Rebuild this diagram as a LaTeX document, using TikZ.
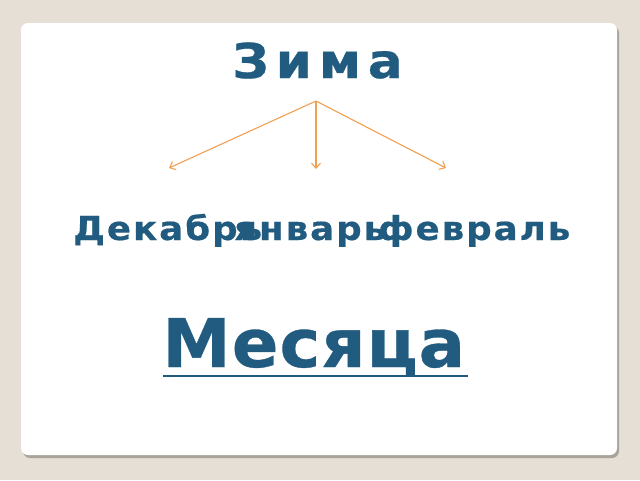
\documentclass[tikz,border=0pt]{standalone}
\usepackage{fontspec}
\setmainfont{DejaVu Sans}
\newfontfamily\titlefont[FakeStretch=1.08,LetterSpace=14,FakeBold=0.5]{DejaVu Sans Bold}
\newfontfamily\wordfont[FakeStretch=1.08,LetterSpace=6,FakeBold=0.5]{DejaVu Sans Bold}
\newfontfamily\bigfont[FakeStretch=1.03,LetterSpace=1.4,FakeBold=0.5]{DejaVu Sans Bold}
\usetikzlibrary{arrows.meta}
\definecolor{bgc}{HTML}{E6DFD5}
\definecolor{txt}{HTML}{215B7F}
\definecolor{arr}{HTML}{F0A050}
\definecolor{shd}{HTML}{A8A49C}
\tikzset{
  x=1pt,y=-1pt,
  word/.style={inner sep=0pt,text=txt,font=\wordfont\fontsize{33}{33}\selectfont,anchor=base west},
  conn/.style={draw=arr,line width=1.1pt,-{Straight Barb[length=5pt,width=9pt]}}
}
\begin{document}
\begin{tikzpicture}
\useasboundingbox (0,0) rectangle (640,480);
\fill[bgc] (0,0) rectangle (640,480);
\fill[shd,rounded corners=7pt] (23,26) rectangle (619,458);
\fill[white,rounded corners=7pt] (21,23) rectangle (617,455);
\node[inner sep=0pt,text=txt,font=\titlefont\fontsize{48}{48}\selectfont,anchor=base west] (zima) at (232,78) {Зима};
\coordinate (apex) at (316,101);
\coordinate (e1) at (169,168);
\coordinate (e2) at (316,169);
\coordinate (e3) at (446,168);
\draw[conn] (apex) -- (e1);
\draw[conn] (apex) -- (e2);
\draw[conn] (apex) -- (e3);
\node[word] (dek) at (73,240) {Декабрь};
\node[word] (yan) at (234,240) {январь};
\node[word] (fev) at (378,240) {февраль};
\node[inner sep=0pt,text=txt,font=\bigfont\fontsize{67}{67}\selectfont,anchor=base west] (mes) at (162,367) {Месяца};
\draw[txt,line width=2.5pt] (163,376) -- (468,376);
\end{tikzpicture}
\end{document}
